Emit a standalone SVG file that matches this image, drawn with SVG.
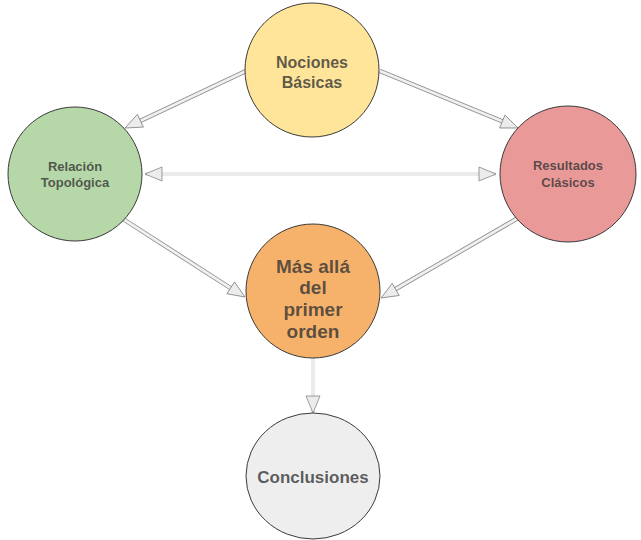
<svg xmlns="http://www.w3.org/2000/svg" width="641" height="540" viewBox="0 0 641 540">
<style>
.node{stroke:#3a3a3a;stroke-width:1}
.lbl{font-family:"Liberation Sans",Arial,sans-serif;font-weight:bold;fill:#333;fill-opacity:0.78;text-anchor:middle}
.shaftO{fill:none;stroke:#8a8a8a;stroke-width:4.4}
.shaftI{fill:none;stroke:#f0f0f0;stroke-width:2.8}
.shaft{fill:none;stroke:#ebebeb;stroke-width:4}
</style>
<defs>
<marker id="ah" markerUnits="userSpaceOnUse" markerWidth="20" markerHeight="16" viewBox="-1 -1 20 16" refX="17" refY="7" orient="auto-start-reverse">
<path d="M0,0 L17,7 L0,14 Z" fill="#ececec" stroke="#777" stroke-width="0.7"/>
</marker>
</defs>
<rect width="641" height="540" fill="#fff"/>
<g id="connectors">
<line class="shaftO" x1="246" y1="71" x2="138" y2="122"/>
<line class="shaftI" x1="246" y1="71" x2="138" y2="122"/>
<line x1="246" y1="71" x2="125" y2="128" stroke="none" marker-end="url(#ah)"/>
<line class="shaftO" x1="380" y1="71" x2="504" y2="122"/>
<line class="shaftI" x1="380" y1="71" x2="504" y2="122"/>
<line x1="380" y1="71" x2="518" y2="128" stroke="none" marker-end="url(#ah)"/>
<line class="shaft" x1="145" y1="174" x2="496" y2="174" marker-start="url(#ah)" marker-end="url(#ah)"/>
<line class="shaftO" x1="123" y1="219" x2="232" y2="289"/>
<line class="shaftI" x1="123" y1="219" x2="232" y2="289"/>
<line x1="123" y1="219" x2="245" y2="297" stroke="none" marker-end="url(#ah)"/>
<line class="shaftO" x1="518" y1="218" x2="394" y2="290"/>
<line class="shaftI" x1="518" y1="218" x2="394" y2="290"/>
<line x1="518" y1="218" x2="381" y2="298" stroke="none" marker-end="url(#ah)"/>
<line class="shaft" x1="313" y1="358" x2="313" y2="413" marker-end="url(#ah)"/>
</g>
<g id="nociones">
<circle class="node" cx="312" cy="70" r="67" fill="#ffe599"/>
<text class="lbl" x="312" y="68" font-size="16">Nociones</text>
<text class="lbl" x="312" y="88" font-size="16">Básicas</text>
</g>
<g id="relacion">
<circle class="node" cx="75" cy="174" r="67" fill="#b6d7a8"/>
<text class="lbl" x="75" y="171" font-size="13">Relación</text>
<text class="lbl" x="75" y="187" font-size="13">Topológica</text>
</g>
<g id="resultados">
<circle class="node" cx="568" cy="174" r="68" fill="#ea9999"/>
<text class="lbl" x="568" y="170" font-size="13">Resultados</text>
<text class="lbl" x="568" y="187" font-size="13">Clásicos</text>
</g>
<g id="masalla">
<circle class="node" cx="313" cy="291" r="67" fill="#f6b26b"/>
<text class="lbl" x="313" y="273" font-size="19">Más allá</text>
<text class="lbl" x="313" y="294" font-size="19">del</text>
<text class="lbl" x="313" y="316" font-size="19">primer</text>
<text class="lbl" x="313" y="338" font-size="19">orden</text>
</g>
<g id="conclusiones">
<ellipse class="node" cx="313" cy="476" rx="67" ry="63" fill="#eeeeee"/>
<text class="lbl" x="313" y="483" font-size="17">Conclusiones</text>
</g>
</svg>
